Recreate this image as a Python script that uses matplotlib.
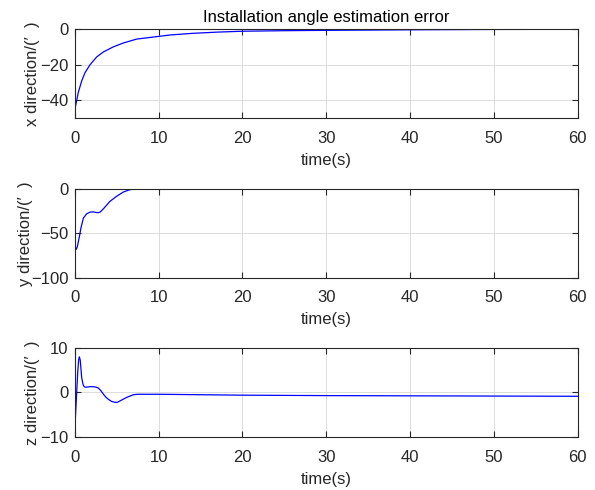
import numpy as np
import matplotlib
matplotlib.use("Agg")
import matplotlib.pyplot as plt

plt.rcParams["font.family"] = ["Liberation Sans", "Noto Sans CJK SC", "DejaVu Sans"]

# values
t_x = [0.12, 0.44, 0.84, 1.24, 1.83, 2.63, 3.43, 4.6, 5.8, 7.4, 10, 11.4, 14, 17, 20, 25, 30, 40, 50, 60]
err_x = [-42.9, -35.5, -29.1, -24.5, -20.1, -15.7, -12.9, -10.1, -7.9, -5.7, -4.2, -3.4, -2.5, -1.8, -1.3, -1.0, -0.8, -0.5, -0.3, -0.2]

t_y = [0.1, 0.2, 0.32, 0.56, 0.76, 1.04, 1.43, 1.83, 2.2, 2.5, 2.8, 3.03, 3.43, 4.2, 5.0, 5.8, 6.6, 7.4, 8.5, 10, 60]
err_y = [-66, -68, -65, -53.8, -43.6, -33, -28.2, -26.3, -26.0, -26.6, -27.0, -26.3, -22.6, -14.3, -8.6, -3.8, -1.1, -0.2, -0.3, -0.3, -0.3]

t_z = [0.08, 0.16, 0.24, 0.36, 0.48, 0.56, 0.66, 0.84, 1.0, 1.1, 1.25, 1.43, 1.8, 2.2, 2.55, 2.83, 3.13, 3.43, 3.7, 4.0, 4.4, 4.8, 5.1, 5.4, 5.8, 6.2, 6.6, 7.0, 7.5, 8.0, 9.0, 10, 20, 30, 40, 50, 60]
err_z = [-5.9, -3.0, 0.0, 4.5, 7.4, 8.0, 7.3, 3.3, 1.8, 1.4, 1.2, 1.2, 1.3, 1.3, 1.2, 1.0, 0.4, -0.4, -1.0, -1.5, -2.0, -2.2, -2.2, -1.9, -1.5, -1.1, -0.8, -0.5, -0.4, -0.4, -0.4, -0.4, -0.6, -0.7, -0.75, -0.8, -0.85]

x_ticks = [0, 10, 20, 30, 40, 50, 60]
panels = [
    (t_x, err_x, "x direction/(\u2032  )", (-50, 0), [-40, -20, 0], -0.068),
    (t_y, err_y, "y direction/(\u2032  )", (-100, 0), [-100, -50, 0], -0.082),
    (t_z, err_z, "z direction/(\u2032  )", (-10, 10), [-10, 0, 10], -0.068),
]
bottoms = [0.759, 0.433, 0.108]
ink = "#262626"

fig = plt.figure(figsize=(5.95, 4.9), dpi=100)
for (t, v, lab, ylim, yt, lx), b in zip(panels, bottoms):
    ax = fig.add_axes([0.1255, b, 0.8455, 0.182])
    ax.plot(t, v, color="#0000ff", lw=0.9)
    ax.set_xlim(0, 60); ax.set_ylim(*ylim)
    ax.set_xticks(x_ticks); ax.set_yticks(yt)
    ax.grid(True, color="#dcdcdc", lw=0.7)
    ax.set_axisbelow(True)
    ax.tick_params(direction="in", top=True, right=True, length=4,
                   labelsize=12, colors=ink)
    ax.tick_params(axis="x", pad=9)
    ax.tick_params(axis="y", pad=4.5)
    for s in ax.spines.values():
        s.set_color(ink); s.set_linewidth(0.8)
    ax.set_xlabel("time(s)", fontsize=12, color=ink, labelpad=5)
    ax.set_ylabel(lab, fontsize=12, color=ink)
    ax.yaxis.set_label_coords(lx, 0.5)
    if b == bottoms[0]:
        ax.set_title("Installation angle estimation error", fontsize=12, pad=5)

fig.savefig("out.png", dpi=100)
